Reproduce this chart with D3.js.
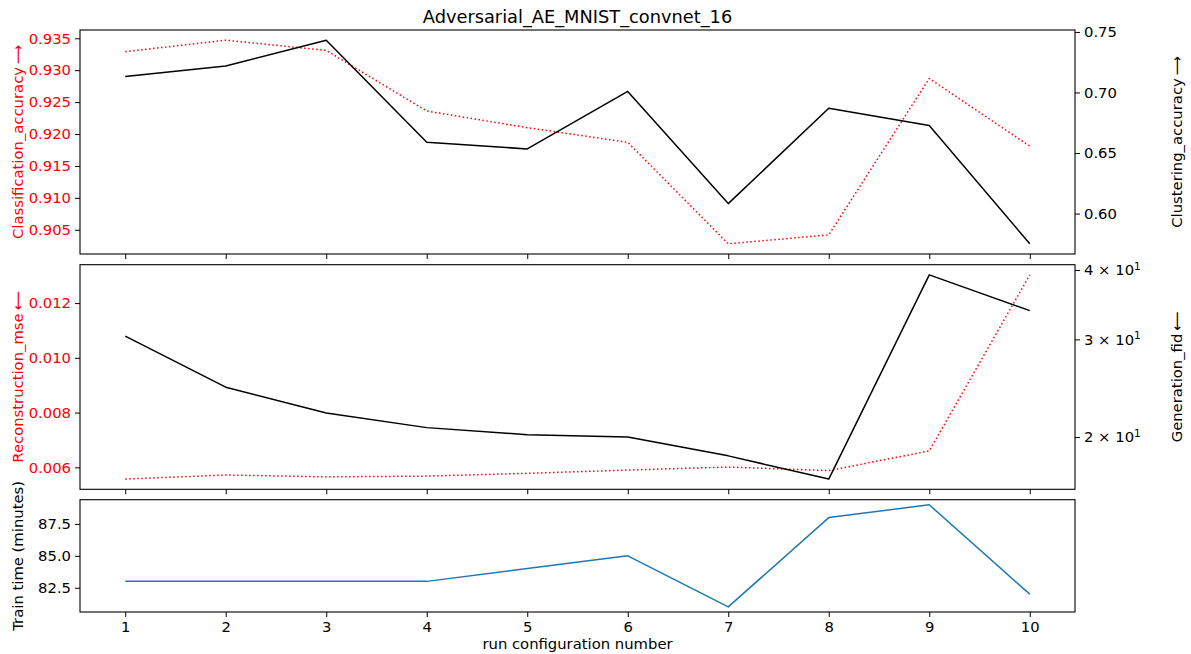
<!DOCTYPE html>
<html>
<head>
<meta charset="utf-8">
<script src="https://cdn.jsdelivr.net/npm/d3@7"></script>
<style>
  body { margin: 0; background: #fff; }
  svg { font-family: "DejaVu Sans", sans-serif; }
</style>
</head>
<body>
<svg id="chart" width="1191" height="654"></svg>
<script>
const runs = [1, 2, 3, 4, 5, 6, 7, 8, 9, 10];
const classificationAccuracy = [0.9329, 0.9347, 0.9331, 0.9236, 0.9210, 0.9187, 0.9028, 0.9042, 0.9287, 0.9181];
const clusteringAccuracy = [0.7132, 0.7219, 0.7432, 0.6589, 0.6534, 0.7009, 0.6082, 0.6870, 0.6728, 0.5750];
const reconstructionMse = [0.00557, 0.00572, 0.00565, 0.00568, 0.00578, 0.00590, 0.00601, 0.00588, 0.00660, 0.01303];
const generationFid = [30.4, 24.6, 22.1, 20.8, 20.2, 20.0, 18.5, 16.8, 39.2, 33.8];
const trainTime = [83, 83, 83, 83, 84, 85, 81, 88, 89, 82];

const classTicks = [0.905, 0.910, 0.915, 0.920, 0.925, 0.930, 0.935];
const clusterTicks = [0.60, 0.65, 0.70, 0.75];
const mseTicks = [0.006, 0.008, 0.010, 0.012];
const fidTicks = [20, 30, 40];
const timeTicks = [82.5, 85.0, 87.5];

const title = "Adversarial_AE_MNIST_convnet_16";

const svg = d3.select("#chart");
const left = 80, right = 1075;
const panels = [
  { top: 30, bottom: 254 },
  { top: 264.7, bottom: 489.3 },
  { top: 499.7, bottom: 612 }
];

const x = d3.scaleLinear().domain([0.55, 10.45]).range([left, right]);

function padDomain(vals) {
  const [a, b] = d3.extent(vals);
  const m = (b - a) * 0.05;
  return [a - m, b + m];
}
function padLogDomain(vals) {
  const [a, b] = d3.extent(vals).map(Math.log10);
  const m = (b - a) * 0.05;
  return [Math.pow(10, a - m), Math.pow(10, b + m)];
}

const fontSize = 14.8;

function drawXTicks(p, labels) {
  const ax = d3.axisBottom(x).tickValues(runs).tickSizeOuter(0).tickSize(5).tickPadding(4)
    .tickFormat(labels ? d3.format("d") : "");
  const g = svg.append("g").attr("transform", `translate(0,${p.bottom})`).call(ax);
  g.select(".domain").remove();
  g.selectAll("line").attr("stroke", "#000").attr("stroke-width", 1);
  g.selectAll("text").attr("font-size", fontSize).attr("fill", "#000")
    .attr("font-family", "DejaVu Sans");
}

function drawLeftAxis(p, scale, ticks, fmt, color) {
  const ax = d3.axisLeft(scale).tickValues(ticks).tickFormat(fmt).tickSize(5).tickPadding(4).tickSizeOuter(0);
  const g = svg.append("g").attr("transform", `translate(${left},0)`).call(ax);
  g.select(".domain").remove();
  g.selectAll("line").attr("stroke", "#000").attr("stroke-width", 1);
  g.selectAll("text").attr("font-size", fontSize).attr("fill", color).attr("font-family", "DejaVu Sans");
  return g;
}

function drawRightAxis(p, scale, ticks, fmt) {
  const ax = d3.axisRight(scale).tickValues(ticks).tickFormat(fmt).tickSize(5).tickPadding(4).tickSizeOuter(0);
  const g = svg.append("g").attr("transform", `translate(${right},0)`).call(ax);
  g.select(".domain").remove();
  g.selectAll("line").attr("stroke", "#000").attr("stroke-width", 1);
  g.selectAll("text").attr("font-size", fontSize).attr("fill", "#000").attr("font-family", "DejaVu Sans");
  return g;
}

function frame(p) {
  svg.append("rect").attr("x", left).attr("y", p.top)
    .attr("width", right - left).attr("height", p.bottom - p.top)
    .attr("fill", "none").attr("stroke", "#000").attr("stroke-width", 1.1);
}

function clip(id, p) {
  svg.append("clipPath").attr("id", id).append("rect")
    .attr("x", left).attr("y", p.top).attr("width", right - left).attr("height", p.bottom - p.top);
}

function drawLine(vals, scale, stroke, dashed, clipId) {
  const line = d3.line().x((d, i) => x(runs[i])).y(d => scale(d));
  svg.append("path").datum(vals)
    .attr("d", line)
    .attr("fill", "none")
    .attr("stroke", stroke)
    .attr("stroke-width", 1.5)
    .attr("stroke-dasharray", dashed ? "1.5,2.5" : null)
    .attr("stroke-linejoin", "round")
    .attr("clip-path", `url(#${clipId})`);
}

function yLabel(xPos, yPos, text, arrow, color) {
  const t = svg.append("text")
    .attr("transform", `translate(${xPos},${yPos}) rotate(-90)`)
    .attr("text-anchor", "middle")
    .attr("dominant-baseline", "central")
    .attr("font-size", fontSize)
    .attr("fill", color);
  t.append("tspan").text(text);
  if (arrow) {
    t.append("tspan").attr("dx", 3).attr("textLength", 19)
      .attr("lengthAdjust", "spacingAndGlyphs").text(arrow);
  }
}

// ---- Panel 1 ----
const p1 = panels[0];
const yClass = d3.scaleLinear().domain(padDomain(classificationAccuracy)).range([p1.bottom, p1.top]);
const yClust = d3.scaleLinear().domain(padDomain(clusteringAccuracy)).range([p1.bottom, p1.top]);
clip("c1", p1);
drawLine(classificationAccuracy, yClass, "#ff0000", true, "c1");
drawLine(clusteringAccuracy, yClust, "#000", false, "c1");
frame(p1);
drawLeftAxis(p1, yClass, classTicks, d3.format(".3f"), "#ff0000");
drawRightAxis(p1, yClust, clusterTicks, d3.format(".2f"));
drawXTicks(p1, false);
yLabel(17, (p1.top + p1.bottom) / 2, "Classification_accuracy", "\u27F6", "#ff0000");
yLabel(1176, (p1.top + p1.bottom) / 2, "Clustering_accuracy", "\u27F6", "#000");

// ---- Panel 2 ----
const p2 = panels[1];
const yMse = d3.scaleLinear().domain(padDomain(reconstructionMse)).range([p2.bottom, p2.top]);
const yFid = d3.scaleLog().domain(padLogDomain(generationFid)).range([p2.bottom, p2.top]);
clip("c2", p2);
drawLine(reconstructionMse, yMse, "#ff0000", true, "c2");
drawLine(generationFid, yFid, "#000", false, "c2");
frame(p2);
drawLeftAxis(p2, yMse, mseTicks, d3.format(".3f"), "#ff0000");
const gFid = drawRightAxis(p2, yFid, fidTicks, () => "");
gFid.selectAll(".tick text").each(function(d) {
  const t = d3.select(this);
  const exp = Math.floor(Math.log10(d));
  const mant = Math.round(d / Math.pow(10, exp));
  t.text(null);
  t.append("tspan").text(`${mant} \u00D7 10`);
  t.append("tspan").attr("font-size", 10.5).attr("dy", "-0.55em").text(`${exp}`);
});
drawXTicks(p2, false);
yLabel(17, (p2.top + p2.bottom) / 2, "Reconstruction_mse", "\u27F5", "#ff0000");
yLabel(1176, (p2.top + p2.bottom) / 2, "Generation_fid", "\u27F5", "#000");

// ---- Panel 3 ----
const p3 = panels[2];
const yTime = d3.scaleLinear().domain(padDomain(trainTime)).range([p3.bottom, p3.top]);
clip("c3", p3);
drawLine(trainTime, yTime, "#1f77b4", false, "c3");
frame(p3);
drawLeftAxis(p3, yTime, timeTicks, d3.format(".1f"), "#000");
drawXTicks(p3, true);
yLabel(17, (p3.top + p3.bottom) / 2, "Train time (minutes)", null, "#000");

svg.append("text")
  .attr("x", (left + right) / 2).attr("y", 649)
  .attr("text-anchor", "middle").attr("font-size", fontSize).attr("fill", "#000")
  .text("run configuration number");

svg.append("text")
  .attr("x", (left + right) / 2).attr("y", 23)
  .attr("text-anchor", "middle").attr("font-size", 17.8).attr("fill", "#000")
  .text(title);
</script>
</body>
</html>
